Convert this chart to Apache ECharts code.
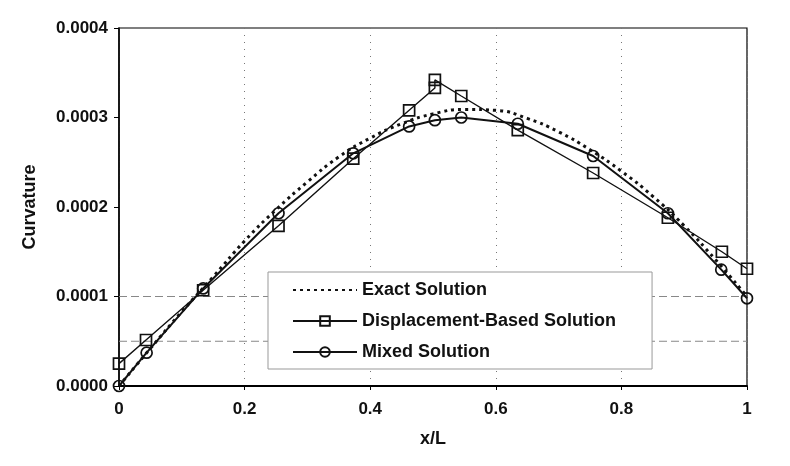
<!DOCTYPE html>
<html>
<head>
<meta charset="utf-8">
<script src="https://cdn.jsdelivr.net/npm/echarts@6/dist/echarts.min.js"></script>
<style>html,body{margin:0;padding:0;background:#fff}#c{width:790px;height:466px}</style>
</head>
<body>
<div id="c"></div>
<script>
var exactX = [0, 0.05, 0.1, 0.15, 0.2, 0.25, 0.3, 0.35, 0.4, 0.45, 0.5, 0.55, 0.6, 0.65, 0.7, 0.75, 0.8, 0.85, 0.9, 0.95, 1.0];
var exactY = [0, 0.000042, 0.000083, 0.000122, 0.000162, 0.000197, 0.000228, 0.000256, 0.000277, 0.000293, 0.000304, 0.000309, 0.000308, 0.000299, 0.000284, 0.000264, 0.000240, 0.000212, 0.000179, 0.000141, 0.000100];

var dispX = [0, 0.043, 0.134, 0.254, 0.373, 0.462, 0.503, 0.503, 0.545, 0.635, 0.755, 0.874, 0.960, 1.0];
var dispY = [0.000025, 0.0000514, 0.000107, 0.000179, 0.000254, 0.000308, 0.000333, 0.000342, 0.000324, 0.000286, 0.000238, 0.000188, 0.000150, 0.000131];

var mixedX = [0, 0.044, 0.134, 0.254, 0.373, 0.462, 0.503, 0.545, 0.635, 0.755, 0.874, 0.959, 1.0];
var mixedY = [0, 0.0000372, 0.000109, 0.000193, 0.000260, 0.000290, 0.000297, 0.000300, 0.000293, 0.000257, 0.000193, 0.000130, 0.000098];

var xTicks = [0, 0.2, 0.4, 0.6, 0.8, 1];
var yTicks = ['0.0000', '0.0001', '0.0002', '0.0003', '0.0004'];
var gridY = [0.00005, 0.0001];

function pairs(xs, ys) { return xs.map(function (x, i) { return [x, ys[i]]; }); }

var font = 'Liberation Sans, Arial, sans-serif';
var gridSeries = gridY.map(function (v, i) {
  return {
    name: 'grid' + i, type: 'line', silent: true, symbol: 'none', z: 1,
    data: [[0, v], [1, v]],
    lineStyle: { color: '#888', type: [8, 4], width: 1 },
    tooltip: { show: false }
  };
});

var chart = echarts.init(document.getElementById('c'));
chart.setOption({
  animation: false,
  backgroundColor: '#fff',
  grid: { left: 119, right: 43, top: 28, bottom: 80, show: true, borderColor: '#000', borderWidth: 1.2 },
  xAxis: {
    type: 'value', min: 0, max: 1, interval: 0.2,
    name: 'x/L', nameLocation: 'middle', nameGap: 44,
    nameTextStyle: { fontFamily: font, fontSize: 18, fontWeight: 'bold', color: '#111' },
    axisLine: { lineStyle: { color: '#000', width: 2 } },
    axisTick: { show: true, length: 4, lineStyle: { color: '#000' } },
    axisLabel: { fontFamily: font, fontSize: 17, fontWeight: 'bold', color: '#111', margin: 15,
      formatter: function (v) { var i = xTicks.indexOf(Math.round(v * 10) / 10); return i >= 0 ? String(xTicks[i]) : ''; } },
    splitLine: { show: true, lineStyle: { color: '#777', type: [1, 6], width: 1 } }
  },
  yAxis: {
    type: 'value', min: 0, max: 0.0004, interval: 0.0001,
    name: 'Curvature', nameLocation: 'middle', nameGap: 80, nameRotate: 90,
    nameTextStyle: { fontFamily: font, fontSize: 18, fontWeight: 'bold', color: '#111' },
    axisLine: { show: true, lineStyle: { color: '#000', width: 1.5 } },
    axisTick: { show: true, length: 5, lineStyle: { color: '#000' } },
    axisLabel: { fontFamily: font, fontSize: 17, fontWeight: 'bold', color: '#111', margin: 11,
      formatter: function (v) { return yTicks[Math.round(v / 0.0001)]; } },
    splitLine: { show: false }
  },
  legend: {
    orient: 'vertical', left: 268, top: 272,
    padding: [9, 36, 8, 24],
    backgroundColor: '#fff', borderColor: '#999', borderWidth: 1,
    itemWidth: 64, itemHeight: 12, itemGap: 13,
    textStyle: { fontFamily: font, fontSize: 18, fontWeight: 'bold', color: '#111' },
    data: [
      { name: 'Exact Solution', itemStyle: { opacity: 0 } },
      'Displacement-Based Solution',
      'Mixed Solution'
    ]
  },
  series: gridSeries.concat([
    {
      name: 'Exact Solution', type: 'line', smooth: true, symbol: 'none',
      data: pairs(exactX, exactY),
      lineStyle: { color: '#111', width: 3, type: [3, 4] },
      itemStyle: { color: '#111' }, z: 3
    },
    {
      name: 'Displacement-Based Solution', type: 'line', symbol: 'rect', symbolSize: 11,
      data: pairs(dispX, dispY),
      lineStyle: { color: '#111', width: 1.4 },
      itemStyle: { color: 'rgba(255,255,255,0)', borderColor: '#111', borderWidth: 1.7 }, z: 4
    },
    {
      name: 'Mixed Solution', type: 'line', symbol: 'circle', symbolSize: 11,
      data: pairs(mixedX, mixedY),
      lineStyle: { color: '#111', width: 2 },
      itemStyle: { color: 'rgba(255,255,255,0)', borderColor: '#111', borderWidth: 1.7 }, z: 5
    }
  ])
});
</script>
</body>
</html>
